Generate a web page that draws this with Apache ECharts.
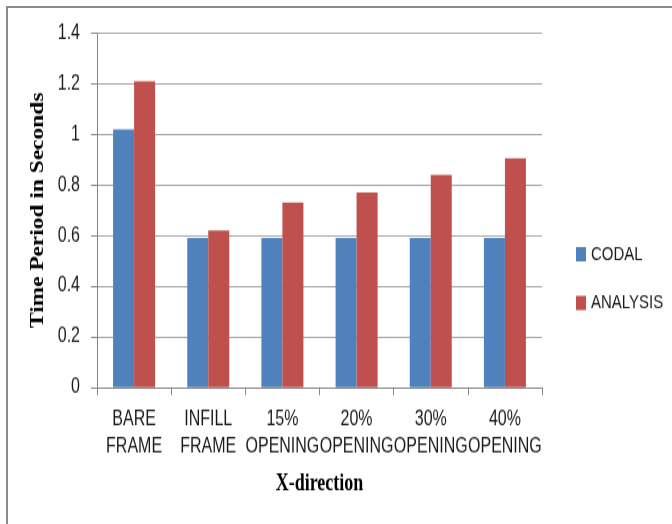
<!DOCTYPE html>
<html>
<head>
<meta charset="utf-8">
<script src="https://cdn.jsdelivr.net/npm/echarts@6/dist/echarts.min.js"></script>
<style>
  html, body { margin: 0; padding: 0; background: #fff; overflow: hidden; }
  #frame {
    position: absolute; left: 6px; top: 6px; width: 720px; height: 600px;
    border-left: 2px solid #8a8a8a; border-top: 2px solid #8a8a8a;
  }
  /* The chart is laid out at 403px tall and stretched vertically to 524px */
  #chart {
    position: absolute; left: 0; top: 0; width: 672px; height: 403px;
    transform: scale(1, 1.30025); transform-origin: 0 0;
  }
</style>
</head>
<body>
<div id="frame"></div>
<div id="chart"></div>
<script>
// Fundamental time period of the frame models, X-direction
const categories = ['BARE\nFRAME', 'INFILL\nFRAME', '15%\nOPENING', '20%\nOPENING', '30%\nOPENING', '40%\nOPENING'];
const codal = [1.02, 0.59, 0.59, 0.59, 0.59, 0.59];
const analysis = [1.21, 0.62, 0.73, 0.77, 0.84, 0.905];
const yTicks = { min: 0, max: 1.4, step: 0.2 };

const labelFont = '"Liberation Sans", Arial, sans-serif';
const titleFont = '"Liberation Serif", "Times New Roman", serif';

const chart = echarts.init(document.getElementById('chart'));
chart.setOption({
  animation: false,
  backgroundColor: 'transparent',
  grid: { left: 97, right: 130, top: 25.6, bottom: 105.2, containLabel: false },
  legend: {
    orient: 'vertical',
    left: 571, top: 183,
    itemWidth: 10, itemHeight: 11, itemGap: 22.5,
    icon: 'rect',
    textStyle: { fontFamily: labelFont, fontSize: 15, color: '#1a1a1a' },
    data: ['CODAL', 'ANALYSIS']
  },
  xAxis: {
    type: 'category',
    data: categories,
    name: 'X-direction',
    nameLocation: 'middle',
    nameGap: 66,
    nameTextStyle: { fontFamily: titleFont, fontWeight: 'bold', fontSize: 18, color: '#000' },
    axisLine: { show: true, lineStyle: { color: '#868686', width: 1 } },
    axisTick: { show: true, length: 6, lineStyle: { color: '#868686' } },
    axisLabel: { interval: 0, margin: 14, lineHeight: 21, fontFamily: labelFont, fontSize: 16, color: '#1a1a1a' },
    splitLine: { show: false }
  },
  yAxis: {
    type: 'value',
    min: yTicks.min, max: yTicks.max, interval: yTicks.step,
    name: 'Time Period in Seconds',
    nameLocation: 'middle',
    nameGap: 43,
    nameTextStyle: { fontFamily: titleFont, fontWeight: 'bold', fontSize: 18, color: '#000' },
    axisLine: { show: true, lineStyle: { color: '#868686', width: 1 } },
    axisTick: { show: true, length: 6, lineStyle: { color: '#868686' } },
    axisLabel: { margin: 17, fontFamily: labelFont, fontSize: 16, color: '#1a1a1a' },
    splitLine: { show: true, lineStyle: { color: '#a3a3a3', width: 1 } }
  },
  series: [
    { name: 'CODAL', type: 'bar', data: codal, barWidth: 21, barGap: '0%', itemStyle: { color: '#4F81BD' } },
    { name: 'ANALYSIS', type: 'bar', data: analysis, barWidth: 21, barGap: '0%', itemStyle: { color: '#C0504D' } }
  ]
});
</script>
</body>
</html>
